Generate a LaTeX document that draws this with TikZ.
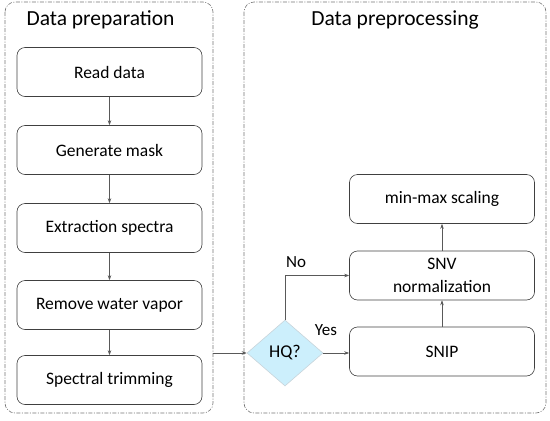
\documentclass[tikz,border=0pt]{standalone}
\usepackage{fontspec}
\setmainfont{Carlito}
\usetikzlibrary{shapes.geometric,arrows.meta}
\begin{document}
\begin{tikzpicture}[x=1pt,y=-1pt,
  container/.style={draw=black!55,line width=0.6pt,rounded corners=10pt,dash pattern=on 4pt off 1.5pt on 1pt off 1.5pt},
  stepbox/.style={draw=black!75,line width=0.6pt,rounded corners=8pt,minimum width=185pt,minimum height=49pt,inner sep=2pt,font=\fontsize{17.5}{23}\selectfont,align=center},
  title/.style={font=\fontsize{21.5}{24}\selectfont},
  link/.style={draw=black!65,line width=0.6pt,-{Stealth[length=5pt,width=3.5pt]}},
  lbl/.style={font=\fontsize{17}{19}\selectfont}
]
\useasboundingbox (0,0) rectangle (550,421);
% containers
\draw[container] (5,2) rectangle (213,413);
\draw[container] (244,2) rectangle (546,413);
\node[title,anchor=west] (t1) at (23,20) {Data preparation};
\node[title] (t2) at (395,20) {Data preprocessing};
% left steps
\node[stepbox] (read) at (109.5,72) {Read data};
\node[stepbox] (mask) at (109.5,150) {Generate mask};
\node[stepbox] (extr) at (109.5,228) {Extraction spectra};
\node[stepbox] (water) at (109.5,305) {Remove water vapor};
\node[stepbox] (trim) at (109.5,380) {Spectral trimming};
\draw[link] (read) -- (mask);
\draw[link] (mask) -- (extr);
\draw[link] (extr) -- (water);
\draw[link] (water) -- (trim);
% right
\node[diamond,draw=cyan!35!black!25,fill=cyan!20,line width=0.6pt,minimum width=76pt,minimum height=66pt,inner sep=0pt,aspect=1.15,font=\fontsize{18}{20}\selectfont] (hq) at (285,353) {HQ?};
\node[stepbox] (snip) at (442,351.5) {SNIP};
\node[stepbox] (snv) at (442,275.5) {SNV\\normalization};
\node[stepbox] (mm) at (442,199) {min-max scaling};
\coordinate (exit) at (213,353);
\draw[link] (exit) -- (hq.west);
\draw[link] (hq.east) -- (hq.east -| snip.west);
\draw[link] (hq.north) |- (snv.west);
\draw[link] (snip) -- (snv);
\draw[link] (snv) -- (mm);
\node[lbl] (no) at (296,262) {No};
\node[lbl] (yes) at (326,330) {Yes};
\end{tikzpicture}
\end{document}
